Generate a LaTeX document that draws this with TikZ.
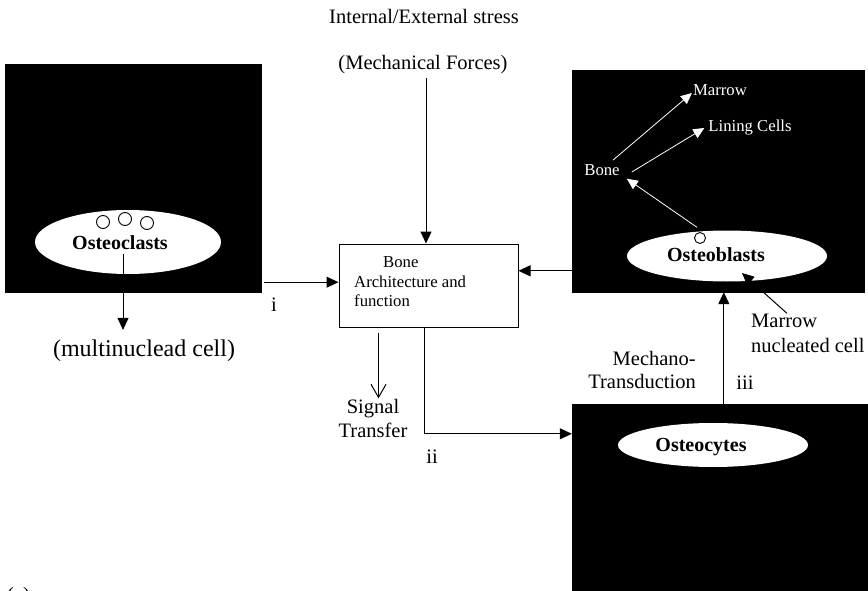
\documentclass[tikz,border=0pt]{standalone}
\usepackage{fontspec}
\setmainfont{Liberation Serif}
\usetikzlibrary{arrows.meta,shapes.geometric}
\begin{document}
\begin{tikzpicture}[x=1pt,y=-1pt,
  txt/.style={inner sep=1pt, font=\fontsize{20.5}{23.5}\selectfont},
  wtxt/.style={inner sep=1pt, text=white, font=\fontsize{16.7}{20}\selectfont},
  celltxt/.style={inner sep=1pt, font=\bfseries\fontsize{20}{24}\selectfont},
  blk/.style={fill=black, draw=black, inner sep=0},
  ell/.style={ellipse, fill=white, inner sep=0},
  circ/.style={circle, draw=black, fill=white, line width=0.9pt, inner sep=0},
  arr/.style={-{Triangle[length=12pt,width=11pt]}, line width=1pt},
  warr/.style={-{Triangle[length=11pt,width=10pt]}, line width=0.8pt, draw=white},
  oarr/.style={-{Straight Barb[length=13pt,width=15pt]}, line width=1pt}
]
\useasboundingbox (0,0) rectangle (868,591);

% black boxes
\node[blk, minimum width=256, minimum height=228] (L) at (133,178) {};
\node[blk, minimum width=292, minimum height=222] (TR) at (718,181) {};
\node[blk, minimum width=310, minimum height=200] (BR) at (727,504) {};

% centre box
\node[draw, line width=1pt, minimum width=179, minimum height=83, inner sep=0] (B) at (428.5,285.5) {};
\node[anchor=west, align=left, inner sep=0, font=\fontsize{16.7}{19.5}\selectfont] (btxt) at (354,282)
  {\hspace*{29pt}Bone\\Architecture and\\function};

% ellipses
\node[ell, minimum width=186, minimum height=64] (clast) at (128,242) {};
\node[celltxt] (tclast) at (120,243) {Osteoclasts};
\node[circ, minimum size=13] (c1) at (103,222) {};
\node[circ, minimum size=13] (c2) at (125,219) {};
\node[circ, minimum size=13] (c3) at (147,223) {};

\node[ell, minimum width=200, minimum height=51] (blast) at (727,256) {};
\node[celltxt] (tblast) at (716,255) {Osteoblasts};
\node[circ, minimum size=11] (c4) at (700,238) {};

\node[ell, minimum width=190, minimum height=44] (cyte) at (713,445) {};
\node[celltxt] (tcyte) at (701,447) {Osteocytes};

% labels
\node[txt] (ist) at (424,16) {Internal/External stress};
\node[txt] (mech) at (423,65) {(Mechanical Forces)};
\node[txt, font=\fontsize{24}{28}\selectfont] (multi) at (144,351) {(multinuclead cell)};
\node[txt] (li) at (274,305) {i};
\node[txt, align=center] (sig) at (373,418.5) {Signal\\Transfer};
\node[txt] (lii) at (432,457) {ii};
\node[txt, align=right, anchor=east] (mt) at (697,370) {Mechano-\\Transduction};
\node[txt] (liii) at (745,383) {iii};
\node[txt, align=left, anchor=west, font=\fontsize{20.5}{24.5}\selectfont] (mnc) at (750,333.5) {Marrow\\nucleated cell};
\node[txt, anchor=base west, inner sep=0] (lbla) at (7,601) {(a)};

% white labels
\node[wtxt] (bone) at (602,170) {Bone};
\node[wtxt] (marrow) at (720,90) {Marrow};
\node[wtxt] (lining) at (750,128) {Lining Cells};

% connectors
\coordinate (mtop) at ([xshift=3pt,yshift=-3pt]mech.south);
\draw[arr] (mtop) -- (mtop |- B.north);

\coordinate (ia) at ([xshift=3pt,yshift=10pt]L.south east);
\draw[arr] (ia) -- (ia -| B.west);

\coordinate (ra) at ([yshift=-201pt]TR.north west);
\draw[arr] (ra) -- (ra -| B.east);

\coordinate (iia) at ([xshift=86pt]B.south west);
\coordinate (iib) at ([yshift=-30pt]BR.north west);
\draw[arr] (iia) |- (iib);

\coordinate (iiia) at ([xshift=152pt]BR.north west);
\draw[arr] (iiia) -- (iiia |- TR.south);

\coordinate (sa) at ([xshift=40pt,yshift=-5pt]B.south west);
\draw[oarr] (sa) -- (sa |- sig.north);

\coordinate (ma) at ([xshift=-5pt,yshift=-12pt]clast.center);
\draw[arr, shorten >=9pt] (ma) -- (ma |- multi.north);

\coordinate (na) at ([xshift=-21pt]mnc.north);
\coordinate (nb) at ([xshift=15pt,yshift=-17pt]blast.center);
\draw[arr] (na) -- (nb);

% white arrows
\draw[warr] ([xshift=-8pt,yshift=3pt]bone.north east) -- ([yshift=-3pt]marrow.west);
\draw[warr] ([xshift=11pt,yshift=-2pt]bone.east) -- ([xshift=-3pt]lining.west);
\draw[warr] ([xshift=-30pt,yshift=3pt]blast.north) -- ([xshift=6pt,yshift=-2pt]bone.south east);
\end{tikzpicture}
\end{document}
